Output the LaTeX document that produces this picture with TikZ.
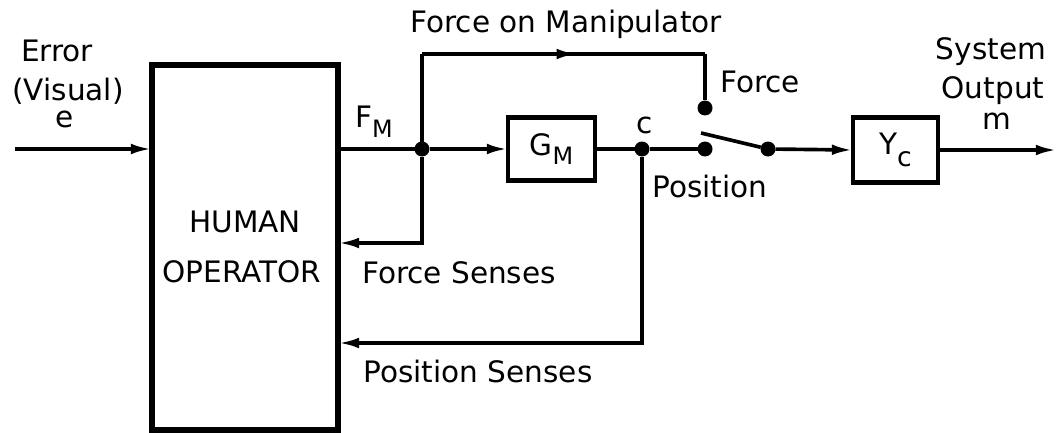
\documentclass[tikz,border=0pt]{standalone}
\usepackage{fontspec}
\setmainfont{DejaVu Sans}
\usetikzlibrary{arrows.meta,decorations.markings}
\def\pxu{0.025cm}
\tikzset{
  every node/.style={inner sep=0pt, outer sep=0pt},
  lbl/.style={anchor=base, font=\fontsize{21}{25}\selectfont},
  bigblock/.style={draw, line width=3.6pt},
  smallblock/.style={draw, line width=3.2pt, font=\fontsize{21}{25}\selectfont},
  dotnode/.style={circle, fill=black, minimum size=15*\pxu},
  wire/.style={line width=2.6pt},
  arr/.style={wire, -{Latex[length=15pt,width=7.5pt]}},
  midarrow/.style={wire, postaction={decorate},
    decoration={markings, mark=at position #1 with {\arrow{Latex[length=15pt,width=7.5pt]}}}}
}
\begin{document}
\begin{tikzpicture}[x=0.025cm, y=-0.025cm]
\useasboundingbox (0,0) rectangle (1059,433);

% blocks
\node[bigblock, minimum width=186*\pxu, minimum height=365*\pxu] (HO) at (245,247.5) {};
\node[lbl] (human) at (245,232) {HUMAN};
\node[lbl] (oper) at (242,282) {OPERATOR};
\node[smallblock, minimum width=87*\pxu, minimum height=63*\pxu] (GM) at (551.5,149)
  {G\raisebox{-6.5pt}{\fontsize{17}{17}\selectfont M}};
\node[smallblock, minimum width=85*\pxu, minimum height=65*\pxu] (YC) at (895.5,150)
  {Y\raisebox{-8pt}{\fontsize{19}{19}\selectfont c}};

% dots
\node[dotnode] (j1) at (422,149) {};
\node[dotnode] (j2) at (642,149) {};
\node[dotnode] (fdot) at (705,108) {};
\node[dotnode] (pdot) at (705,149) {};
\node[dotnode] (rdot) at (768,149) {};

% coordinates
\coordinate (ein) at (15,149);
\coordinate (tl) at (422,54);
\coordinate (tr) at (705,54);
\coordinate (fs) at (422,243);
\coordinate (ps) at (642,343);
\coordinate (sw) at (701,133);
\coordinate (out) at (1057,150);

% connectors
\draw[arr] (ein) -- (HO.west |- ein);
\draw[wire] (HO.east |- j1) -- (j1);
\draw[arr] (j1) -- (GM.west);
\draw[wire] (GM.east) -- (j2) -- (pdot);
\draw[wire] (j1) -- (tl);
\draw[midarrow=0.55] (tl) -- (tr);
\draw[wire] (tr) -- (fdot);
\draw[arr] (j1) -- (fs) -- (HO.east |- fs);
\draw[arr] (j2) -- (ps) -- (HO.east |- ps);
\draw[wire] (sw) -- (rdot);
\draw[arr] (rdot) -- (YC.west);
\draw[arr] (YC.east |- out) -- (out);

% labels
\node[lbl] (err) at (57,62) {Error};
\node[lbl] (vis) at (68,100) {(Visual)};
\node[lbl] (e) at (65,128) {e};
\node[lbl] (fm) at (374,128) {F\raisebox{-7pt}{\fontsize{17}{17}\selectfont M}};
\node[lbl] (fom) at (566,33) {Force on Manipulator};
\node[lbl] (force) at (760,93) {Force};
\node[lbl] (c) at (645,133) {c};
\node[lbl] (pos) at (710,197) {Position};
\node[lbl] (sys) at (991,60) {System};
\node[lbl] (outp) at (993,99) {Output};
\node[lbl] (m) at (997,130) {m};
\node[lbl] (fsen) at (459,283) {Force Senses};
\node[lbl] (psen) at (478,382) {Position Senses};
\end{tikzpicture}
\end{document}
